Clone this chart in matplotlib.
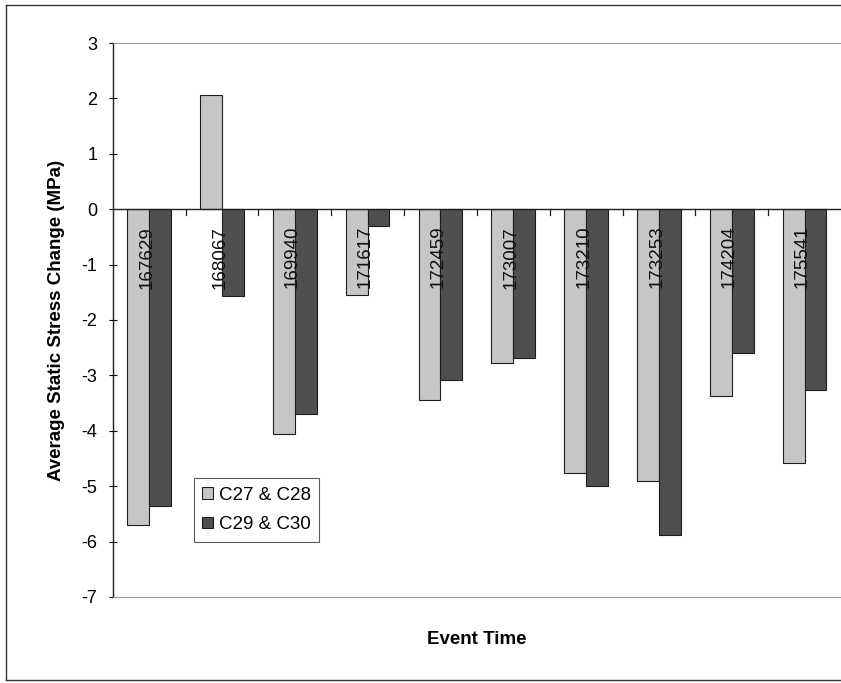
import matplotlib
matplotlib.use("Agg")
import matplotlib.pyplot as plt
import numpy as np
from matplotlib.lines import Line2D

events = ["167629", "168067", "169940", "171617", "172459",
          "173007", "173210", "173253", "174204", "175541"]
c27_c28 = [-5.70, 2.07, -4.05, -1.55, -3.45, -2.78, -4.77, -4.90, -3.38, -4.58]
c29_c30 = [-5.35, -1.57, -3.70, -0.30, -3.08, -2.68, -5.00, -5.88, -2.60, -3.27]
series_names = ["C27 & C28", "C29 & C30"]

plt.rcParams["font.family"] = ["Liberation Sans", "DejaVu Sans"]

fig = plt.figure(figsize=(8.41, 6.83), dpi=100)
ax = fig.add_axes([0.134, 0.126, 0.866, 0.811])

x = np.arange(len(events))
w = 0.30
ax.bar(x - w / 2, c27_c28, width=w, color="#c6c6c6", edgecolor="#1e1e1e",
       linewidth=0.8, label=series_names[0], zorder=2)
ax.bar(x + w / 2, c29_c30, width=w, color="#4f4f4f", edgecolor="#1e1e1e",
       linewidth=0.8, label=series_names[1], zorder=2)

ax.set_xlim(-0.5, len(events) - 0.5)
ax.set_ylim(-7, 3)
ax.set_yticks(np.arange(-7, 4, 1))
ax.set_yticklabels([str(v) for v in range(-7, 4)])
ax.tick_params(axis="y", direction="inout", length=6, labelsize=13, pad=8)

# category axis along zero, with separator ticks between the event groups
ax.axhline(0, color="#1e1e1e", linewidth=1.0, zorder=3)
ax.set_xticks([])
for b in np.arange(0.5, len(events) - 0.5, 1.0):
    ax.plot([b, b], [0, -0.1], color="#1e1e1e", linewidth=0.9, zorder=3)
for xi, lab in zip(x, events):
    ax.text(xi - 0.03, -0.3, lab, rotation=90, ha="center", va="top",
            fontsize=13.5, color="#111111", zorder=4)

for side in ["top", "right", "bottom"]:
    ax.spines[side].set_color("#9a9a9a")
    ax.spines[side].set_linewidth(0.7)
ax.spines["left"].set_color("#1e1e1e")
ax.spines["left"].set_linewidth(1.0)

ax.set_ylabel("Average Static Stress Change (MPa)", fontsize=13.5,
              fontweight="bold", labelpad=12)
fig.text(0.567, 1 - 640 / 683, "Event Time", ha="center", va="center",
         fontsize=13.5, fontweight="bold")

leg = ax.legend(loc="lower left", bbox_to_anchor=(0.111, 0.10), fontsize=13.5,
                frameon=True, fancybox=False, edgecolor="#333333",
                handlelength=0.6, handleheight=0.6, handletextpad=0.3,
                borderpad=0.45, labelspacing=0.65, borderaxespad=0)
leg.get_frame().set_linewidth(0.8)

# outer chart border (left, top, bottom edges)
for xs, ys in [([0.007, 0.007], [0.004, 0.993]),
               ([0.007, 1.0], [0.993, 0.993]),
               ([0.007, 1.0], [0.004, 0.004])]:
    fig.add_artist(Line2D(xs, ys, transform=fig.transFigure,
                          color="#333333", linewidth=1.0))

fig.savefig("out.png", dpi=100)
